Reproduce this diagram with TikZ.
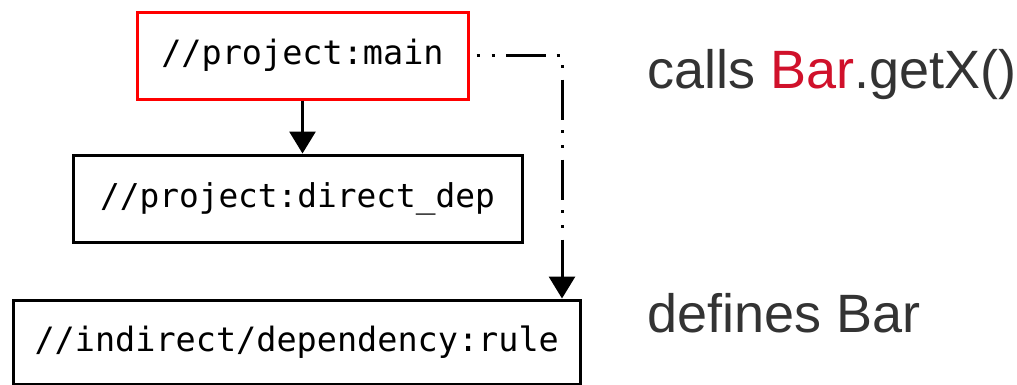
\documentclass[tikz,border=0pt]{standalone}
\usepackage{fontspec}
\setmainfont{Liberation Sans}
\newfontfamily\codefont{DejaVu Sans Mono}
\usetikzlibrary{arrows.meta}
\definecolor{txtgray}{HTML}{333333}
\definecolor{barred}{HTML}{D0112B}
\tikzset{
  box/.style={draw=black, line width=3pt, rectangle, inner sep=0pt, fill=white},
  conn/.style={line width=3pt, -{Triangle[length=22pt,width=26pt]}},
  dashdot/.style={dash pattern=on 40pt off 10.5pt on 3pt off 12pt on 3pt off 11.5pt, dash phase=43.5pt},
  lbl/.style={anchor=base west, inner sep=0pt, text=txtgray, font=\fontsize{54}{64}\selectfont}
}
\begin{document}
\begin{tikzpicture}[x=1pt,y=-1pt]
\useasboundingbox (0,0) rectangle (1017,384);
\node[box, draw=red, minimum width=331pt, minimum height=87pt, font=\codefont\fontsize{33.5}{40}\selectfont] (main) at (302.5,55.5) {//project:main};
\node[box, minimum width=449pt, minimum height=87pt, font=\codefont\fontsize{32.8}{40}\selectfont] (direct) at (297.5,198.5) {//project:direct\_dep};
\node[box, minimum width=566.5pt, minimum height=84pt, font=\codefont\fontsize{33.5}{40}\selectfont] (indirect) at (296.75,342) {//indirect/dependency:rule};
\coordinate (corner) at (562,55.5);
\draw[conn] (main.south) -- (main.south |- direct.north);
\draw[conn, dashdot] (main.east) -- (corner) -- (corner |- indirect.north);
\node[lbl] (calls) at (647,88) {calls \textcolor{barred}{Bar}.getX()};
\node[lbl] (defines) at (647,332) {defines Bar};
\end{tikzpicture}
\end{document}
